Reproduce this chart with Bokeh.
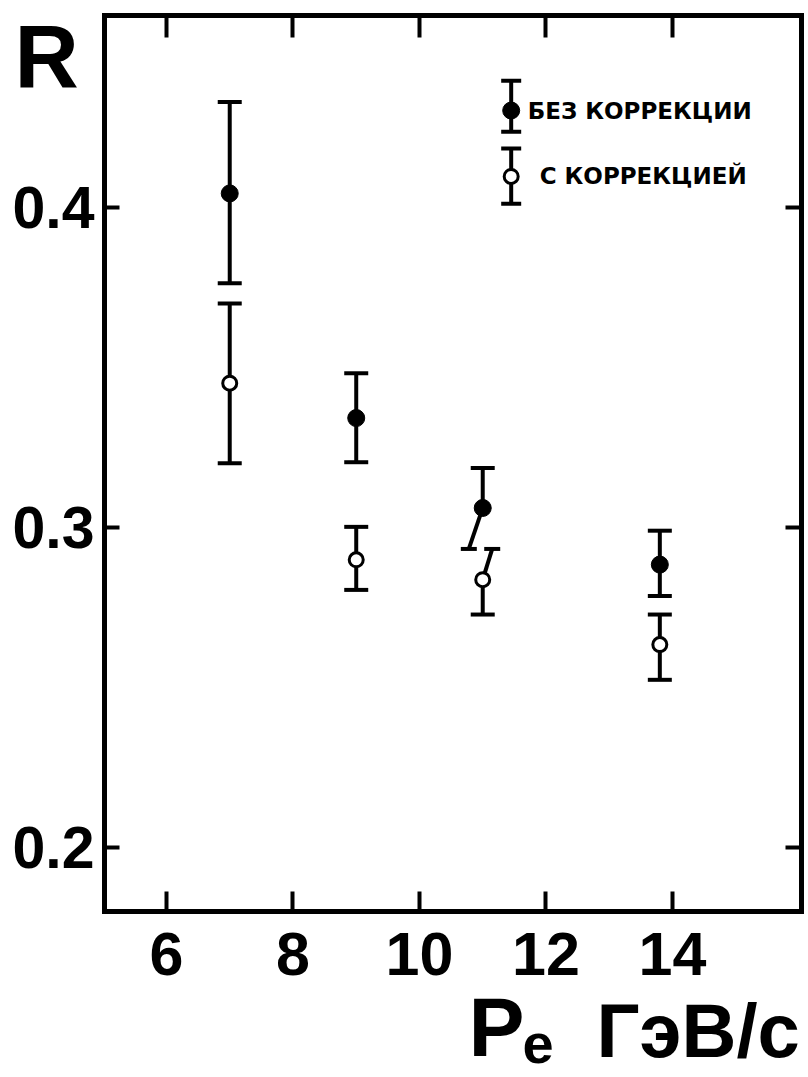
from bokeh.plotting import figure
from bokeh.models import Range1d, LinearAxis, FixedTicker, Label, CustomJSTickFormatter
from bokeh.embed import file_html
from bokeh.resources import INLINE

# ---- data ----
momentum = [7.0, 9.0, 11.0, 13.8]
r_without = [0.4044, 0.3342, 0.3061, 0.2884]
r_without_hi = [0.4330, 0.3482, 0.3186, 0.2990]
r_without_lo = [0.3763, 0.3204, 0.2933, 0.2786]
r_with = [0.3451, 0.2899, 0.2837, 0.2634]
r_with_hi = [0.3700, 0.3002, 0.2933, 0.2728]
r_with_lo = [0.3201, 0.2805, 0.2728, 0.2524]
x_ticks = [6, 8, 10, 12, 14]
y_ticks = [0.2, 0.3, 0.4]
legend_labels = ["БЕЗ КОРРЕКЦИИ", "С КОРРЕКЦИЕЙ"]
x_title = ["P", "e", "ГэВ/с"]
y_title = "R"

# drawing offsets of bar ends moved aside where the two series overlap (x units)
without_lo_shift = [0, 0, -0.22, 0]
with_hi_shift = [0, 0, 0.15, 0]
# cap widths (px): the moved-aside caps are drawn shorter
without_lo_cap = [24, 24, 16, 24]
with_hi_cap = [24, 24, 16, 24]

FONT = "Liberation Sans"
W, H = 808, 1077
# plotting box: data limits and where the box sits on the page (px)
X_LO, X_HI, Y_LO, Y_HI = 5.02, 16.04, 0.18, 0.46
BOX_L, BOX_R, BOX_T, BOX_B = 104, 801, 15, 911
kx = (BOX_R - BOX_L) / (X_HI - X_LO)
ky = (BOX_B - BOX_T) / (Y_HI - Y_LO)
x_range = Range1d(X_LO - BOX_L / kx, X_HI + (W - BOX_R) / kx)
y_range = Range1d(Y_LO - (H - BOX_B) / ky, Y_HI + BOX_T / ky)

p = figure(width=W, height=H, output_backend="svg", toolbar_location=None,
           x_range=x_range, y_range=y_range,
           min_border_left=0, min_border_right=0, min_border_top=0, min_border_bottom=0)
p.grid.visible = False
p.outline_line_color = None
p.background_fill_color = "white"
p.border_fill_color = "white"

# frame box
p.quad(left=[X_LO], right=[X_HI], bottom=[Y_LO], top=[Y_HI], fill_color=None,
       line_color="black", line_width=5, line_join="miter")

blank = CustomJSTickFormatter(code="return ''")

for ax in p.xaxis:
    ax.ticker = FixedTicker(ticks=x_ticks)
    ax.fixed_location = Y_LO
for ax in p.yaxis:
    ax.ticker = FixedTicker(ticks=y_ticks)
    ax.fixed_location = X_LO

p.xaxis.major_tick_in = 20
p.xaxis.major_tick_out = 0
p.xaxis.major_tick_line_width = 4
p.xaxis.minor_tick_line_color = None
p.xaxis.axis_line_color = None
p.xaxis.major_label_text_font = FONT
p.xaxis.major_label_text_font_style = "bold"
p.xaxis.major_label_text_font_size = "61px"
p.xaxis.major_label_text_color = "black"
p.xaxis.major_label_standoff = 21

p.yaxis.major_tick_in = 15
p.yaxis.major_tick_out = 0
p.yaxis.major_tick_line_width = 4
p.yaxis.minor_tick_line_color = None
p.yaxis.axis_line_color = None
p.yaxis.major_label_text_font = FONT
p.yaxis.major_label_text_font_style = "bold"
p.yaxis.major_label_text_font_size = "59px"
p.yaxis.major_label_text_color = "black"
p.yaxis.major_label_standoff = 10

top_axis = LinearAxis(ticker=FixedTicker(ticks=x_ticks), fixed_location=Y_HI,
                      major_tick_in=22, major_tick_out=0, formatter=blank,
                      major_tick_line_width=4, minor_tick_line_color=None,
                      axis_line_color=None, major_label_standoff=0)
p.add_layout(top_axis, "above")
right_axis = LinearAxis(ticker=FixedTicker(ticks=y_ticks), fixed_location=X_HI,
                        major_tick_in=16, major_tick_out=0, formatter=blank,
                        major_tick_line_width=4, minor_tick_line_color=None,
                        axis_line_color=None, major_label_standoff=0)
p.add_layout(right_axis, "right")

# ---- error bars ----
x_without_lo = [x + s for x, s in zip(momentum, without_lo_shift)]
x_with_hi = [x + s for x, s in zip(momentum, with_hi_shift)]

BAR_W = 4
CAP = 24
p.segment(x0=momentum, y0=r_without_hi, x1=momentum, y1=r_without,
          line_width=BAR_W, line_color="black")
p.segment(x0=momentum, y0=r_without, x1=x_without_lo, y1=r_without_lo,
          line_width=BAR_W, line_color="black")
p.segment(x0=x_with_hi, y0=r_with_hi, x1=momentum, y1=r_with,
          line_width=BAR_W, line_color="black")
p.segment(x0=momentum, y0=r_with, x1=momentum, y1=r_with_lo,
          line_width=BAR_W, line_color="black")

p.scatter(x=momentum, y=r_without_hi, marker="dash", size=CAP, line_width=4, line_color="black")
p.scatter(x=x_without_lo, y=r_without_lo, marker="dash", size=without_lo_cap, line_width=4,
          line_color="black")
p.scatter(x=x_with_hi, y=r_with_hi, marker="dash", size=with_hi_cap, line_width=4,
          line_color="black")
p.scatter(x=momentum, y=r_with_lo, marker="dash", size=CAP, line_width=4, line_color="black")

p.scatter(x=momentum, y=r_without, marker="circle", size=17,
          fill_color="black", line_color="black", line_width=1)
p.scatter(x=momentum, y=r_with, marker="circle", size=14,
          fill_color="white", line_color="black", line_width=3)

# ---- legend (hand drawn, as in the original) ----
lx = 11.45
leg_y = [0.4303, 0.4097]
leg_hi = [0.4396, 0.4184]
leg_lo = [0.4237, 0.4012]
p.segment(x0=[lx, lx], y0=leg_hi, x1=[lx, lx], y1=leg_lo, line_width=BAR_W, line_color="black")
p.scatter(x=[lx, lx, lx, lx], y=leg_hi + leg_lo, marker="dash", size=CAP - 4,
          line_width=4, line_color="black")
p.scatter(x=[lx], y=[leg_y[0]], marker="circle", size=17, fill_color="black", line_color="black")
p.scatter(x=[lx], y=[leg_y[1]], marker="circle", size=14, fill_color="white",
          line_color="black", line_width=3)
for tx, ty, txt in zip([11.71, 11.90], leg_y, legend_labels):
    p.add_layout(Label(x=tx, y=ty, text=txt, text_font="DejaVu Sans", text_font_style="bold",
                       text_font_size="23px", text_baseline="middle", text_align="left",
                       text_color="black"))

# ---- axis titles (canvas pixels, anchored at the text's middle) ----
def title(x, y, txt, size):
    p.add_layout(Label(x=x, y=y, x_units="canvas", y_units="canvas", text=txt,
                       text_font=FONT, text_font_style="bold", text_font_size=size,
                       text_baseline="middle", text_align="left", text_color="black"))

title(14, 55, y_title, "89px")
title(468, 1026, x_title[0], "84px")
title(522, 1043, x_title[1], "56px")
title(596, 1030, x_title[2], "76px")

open("out.html", "w").write(file_html(p, INLINE))
